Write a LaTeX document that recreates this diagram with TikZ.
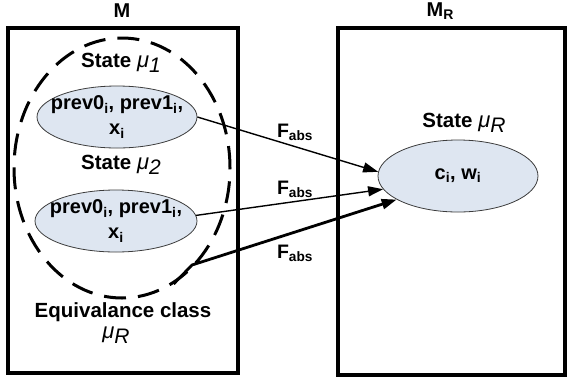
\documentclass[tikz,border=0pt]{standalone}
\usepackage{fontspec}
\setmainfont{Liberation Sans}
\usetikzlibrary{shapes.geometric,arrows.meta}
\definecolor{statefill}{RGB}{222,230,241}
\definecolor{stateline}{RGB}{60,60,60}
% slanted mu with a lowered index, as used for state names
\newcommand{\mustate}[1]{{\mdseries\itshape\fontsize{22}{24}\selectfont\char"03BC\raisebox{-5pt}{\fontsize{21}{24}\selectfont #1}}}
\begin{document}
\begin{tikzpicture}[x=1pt,y=-1pt,
  machine/.style={draw=black,line width=3.8pt},
  title/.style={font=\bfseries\fontsize{20}{22}\selectfont,inner sep=0pt},
  label/.style={font=\bfseries\fontsize{20.5}{24}\selectfont,inner sep=0pt,align=center},
  state/.style={ellipse,draw=stateline,line width=0.8pt,fill=statefill,
    inner xsep=-26pt,inner ysep=-8pt,
    font=\bfseries\fontsize{20}{25}\selectfont,align=center},
  eqclass/.style={ellipse,draw=black,line width=3pt,dash pattern=on 22pt off 12pt,
    inner sep=0pt,minimum width=216pt,minimum height=260pt},
  fabs/.style={font=\bfseries\fontsize{19.5}{22}\selectfont,inner sep=0pt},
  map/.style={draw=black,line width=1.4pt,-{Triangle[length=15pt,width=10pt]}},
  mapthick/.style={draw=black,line width=2.8pt,line join=round,-{Triangle[length=15pt,width=10pt]}}]
\useasboundingbox (0,0) rectangle (567,381);

% the two machines
\draw[machine] (8,28) rectangle (238,373);
\draw[machine] (338,28) rectangle (565,375);
\node[title] (m) at (122,11) {M};
\node[title] (mr) at (440,11) {M\raisebox{-3pt}{\fontsize{14}{15}\selectfont R}};

% equivalence class of concrete states
\node[eqclass] (eqc) at (122,168) {};
\node[label] (s1) at (121,63) {State \mustate{1}};
\node[state,minimum width=160pt,minimum height=62pt] (e1) at (117,117)
  {prev0\textsubscript{i}, prev1\textsubscript{i},\\x\textsubscript{i}};
\node[label] (s2) at (121,165) {State \mustate{2}};
\node[state,minimum width=162pt,minimum height=62pt] (e2) at (116,221)
  {prev0\textsubscript{i}, prev1\textsubscript{i},\\x\textsubscript{i}};
\node[label] (eqt) at (123,312) {Equivalance class};
\node[label] (eqmu) at (116,335) {\mustate{R}};

% abstract state
\node[label] (sr) at (464,123) {State \mustate{R}};
\node[state,minimum width=160pt,minimum height=72pt] (er) at (458,176)
  {c\textsubscript{i}, w\textsubscript{i}};

% abstraction function
\coordinate (bend) at (192,265);
\draw[map] (e1.east) -- (er.177);
\draw[map] (e2.4) -- (er.190);
\draw[mapthick] (eqc.-66) -- (bend) -- (er.201);
\node[fabs] (f1) at (295,132) {F\textsubscript{abs}};
\node[fabs] (f2) at (295,189) {F\textsubscript{abs}};
\node[fabs] (f3) at (295,253) {F\textsubscript{abs}};
\end{tikzpicture}
\end{document}
